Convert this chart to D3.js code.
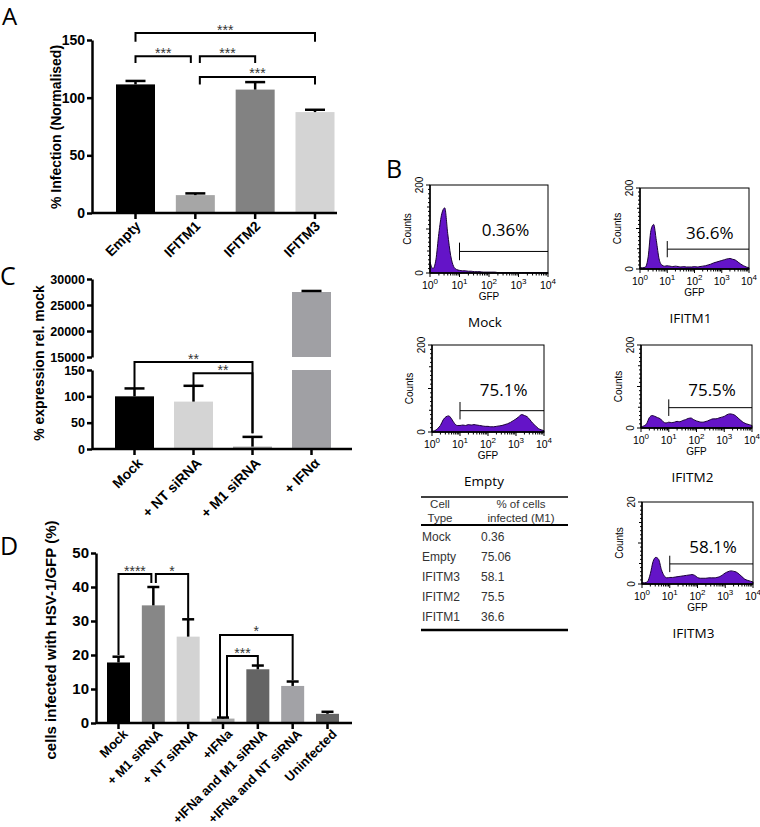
<!DOCTYPE html>
<html><head><meta charset="utf-8">
<script src="https://cdn.jsdelivr.net/npm/d3@7"></script>
<style>body{margin:0;background:#fff}svg{display:block}</style>
</head><body>
<svg id="c" width="760" height="827"></svg>
<script>
// ---------- DATA ----------
// Panel A
const catsA = ["Empty", "IFITM1", "IFITM2", "IFITM3"];
const valsA = [111.5, 15.5, 107, 87.5];
const errA = [114.5, 17, 113.5, 89.5];
const colorsA = ["#000000", "#a6a6a6", "#828282", "#d4d4d4"];
const ticksA = [0, 50, 100, 150];
const sigA = [
  {a: 0, b: 3, h: 156, ya: 148.5, yb: 148.5, da: 0, db: 0, label: "***"},
  {a: 0, b: 1, h: 136, ya: 130, yb: 130, da: 0, db: -4.5, label: "***"},
  {a: 1, b: 2, h: 136, ya: 130, yb: 130, da: 4.5, db: 0, label: "***"},
  {a: 1, b: 3, h: 118, ya: 111.5, yb: 111.5, da: 4.5, db: 0, label: "***"}
];
// Panel C
const catsC = ["Mock", "+ NT siRNA", "+ M1 siRNA", "+ IFN\u03b1"];
const valsC = [100, 90, 4.5, 27500];
const errC = [115, 120, 23, 27700];
const colorsC = ["#000000", "#d4d4d4", "#a0a0a0", "#a0a0a4"];
const ticksCLow = [0, 50, 100, 150];
const ticksCHigh = [15000, 20000, 25000, 30000];
const sigC = [
  {a: 0, b: 2, h: 165, ya: 116, yb: 30, da: 0, db: 0, label: "**"},
  {a: 1, b: 2, h: 144, ya: 121.5, yb: 30, da: 0, db: 0, label: "**"}
];
// Panel D
const catsD = ["Mock", "+ M1 siRNA", "+ NT siRNA", "+IFNa", "+IFNa and M1 siRNA", "+IFNa and NT siRNA", "Uninfected"];
const valsD = [17.8, 34.6, 25.4, 1.3, 15.8, 10.9, 2.7];
const errD = [19.5, 40, 30.5, 1.6, 16.9, 12.2, 3.3];
const colorsD = ["#000000", "#878787", "#d3d3d3", "#a8a8a8", "#646464", "#a2a2a6", "#646464"];
const ticksD = [0, 10, 20, 30, 40, 50];
const sigD = [
  {a: 0, b: 1, h: 43.8, ya: 20, yb: 41.2, da: 0, db: -2, label: "****"},
  {a: 1, b: 2, h: 43.8, ya: 41.2, yb: 30.9, da: 2.5, db: 0, label: "*"},
  {a: 3, b: 5, h: 25.9, ya: 1.8, yb: 12.6, da: -3, db: 0, label: "*"},
  {a: 3, b: 4, h: 19.7, ya: 1.8, yb: 17, da: 4, db: 0, label: "***"}
];
// Panel B histograms (counts at log10(GFP) = gfpExp)
const gfpExp = [0,0.1,0.2,0.3,0.4,0.5,0.6,0.7,0.8,0.9,1.0,1.1,1.2,1.3,1.4,1.5,1.6,1.7,1.8,1.9,2.0,2.1,2.2,2.3,2.4,2.5,2.6,2.7,2.8,2.9,3.0,3.1,3.2,3.3,3.4,3.5,3.6,3.7,3.8,3.9,4.0];
const histMock = [25,10,30,90,135,148,90,40,15,8, 6,5,5,4,4,3,3,3,2,2, 2,2,2,1,1,1,1,1,1,1, 1,1,1,1,1,1,1,1,1,1, 1];
const histIFITM1 = [3,3,5,30,95,110,70,25,10,7, 8,7,6,7,6,5,6,5,5,5, 6,5,6,7,8,10,12,15,17,19, 21,23,25,26,24,22,17,12,8,5, 3];
const histEmpty = [2,3,8,15,28,35,37,30,20,15, 15,16,15,17,16,17,16,15,14,13, 13,12,12,13,14,15,17,19,22,26, 30,35,40,38,35,28,20,14,8,5, 3];
const histIFITM2 = [3,5,10,25,30,28,25,22,15,12, 14,13,14,16,15,18,20,23,24,20, 17,15,14,15,17,20,22,22,24,26, 28,32,34,33,30,24,18,13,10,8, 6];
const histIFITM3 = [0.3,0.3,0.6,2.5,5.5,6.5,6,3.5,2,1.5, 1.6,1.6,1.7,1.8,1.9,2,2.1,2.2,2.3,2.1, 1.6,1.4,1.4,1.4,1.5,1.5,1.5,1.6,1.8,2.2, 2.7,3,3.2,3.1,2.9,2.4,1.8,1.2,0.9,0.7, 0.5];
const histNames = ["Mock", "IFITM1", "Empty", "IFITM2", "IFITM3"];
const histPct = ["0.36%", "36.6%", "75.1%", "75.5%", "58.1%"];
const histMax = [200, 200, 200, 200, 20];
const gfpTicks = [1, 10, 100, 1000, 10000];
// Table
const tableHeader = [["Cell", "Type"], ["% of cells", "infected (M1)"]];
const tableTypes = ["Mock", "Empty", "IFITM3", "IFITM2", "IFITM1"];
const tableVals = ["0.36", "75.06", "58.1", "75.5", "36.6"];

// ---------- DRAW ----------
const svg = d3.select("#c");
const F = "'Liberation Sans', Arial, Helvetica, sans-serif";
const LF = "'Open Sans', 'Noto Sans', sans-serif";
const AX = 2.5;

function letter(t, x, y, size) {
  svg.append("text").attr("x", x).attr("y", y).text(t)
    .attr("font-family", LF).attr("font-size", size).attr("fill", "#000");
}

function yAxis(g, y, ticks, xPos, fs) {
  const ax = g.append("g").attr("transform", `translate(${xPos},0)`)
    .call(d3.axisLeft(y).tickValues(ticks).tickSize(5).tickSizeOuter(0).tickPadding(2).tickFormat(d3.format("d")));
  ax.select(".domain").attr("stroke", "#000").attr("stroke-width", AX);
  ax.selectAll(".tick line").attr("stroke", "#000").attr("stroke-width", AX);
  ax.selectAll(".tick text").attr("font-family", F).attr("font-weight", "bold")
    .attr("font-size", fs).attr("fill", "#000");
  return ax;
}

function xAxis(g, x, cats, x0, x1, y0, fs, dx, dy) {
  g.append("line").attr("x1", x0).attr("x2", x1).attr("y1", y0).attr("y2", y0)
    .attr("stroke", "#000").attr("stroke-width", AX);
  g.selectAll(null).data(cats).enter().append("line")
    .attr("x1", d => x(d)).attr("x2", d => x(d)).attr("y1", y0).attr("y2", y0 + 6)
    .attr("stroke", "#000").attr("stroke-width", AX);
  g.selectAll(null).data(cats).enter().append("text")
    .attr("transform", d => `translate(${x(d) + dx},${y0 + dy}) rotate(-45)`)
    .attr("text-anchor", "end").attr("font-family", F).attr("font-weight", "bold")
    .attr("font-size", fs).text(d => d);
}

function bars(g, x, yfn, cats, vals, colors, w) {
  g.selectAll(null).data(cats).enter().append("rect")
    .attr("x", d => x(d) - w / 2).attr("width", w)
    .attr("y", (d, i) => yfn(vals[i])).attr("height", (d, i) => yfn(0) - yfn(vals[i]))
    .attr("fill", (d, i) => colors[i]);
}

function errBars(g, x, yfn, cats, vals, errs, cw) {
  cats.forEach((c, i) => {
    const cx = x(c);
    g.append("line").attr("x1", cx).attr("x2", cx).attr("y1", yfn(vals[i])).attr("y2", yfn(errs[i]))
      .attr("stroke", "#000").attr("stroke-width", AX);
    g.append("line").attr("x1", cx - cw / 2).attr("x2", cx + cw / 2).attr("y1", yfn(errs[i])).attr("y2", yfn(errs[i]))
      .attr("stroke", "#000").attr("stroke-width", AX);
  });
}

function brackets(g, x, yfn, cats, sigs, fs) {
  sigs.forEach(s => {
    const xa = x(cats[s.a]) + s.da, xb = x(cats[s.b]) + s.db, yh = yfn(s.h);
    g.append("path").attr("d", `M${xa},${yfn(s.ya)}V${yh}H${xb}V${yfn(s.yb)}`)
      .attr("fill", "none").attr("stroke", "#000").attr("stroke-width", 2);
    g.append("text").attr("x", (xa + xb) / 2).attr("y", yh + 1.5).attr("text-anchor", "middle")
      .attr("font-family", F).attr("font-size", fs).attr("fill", "#333").text(s.label);
  });
}

function yTitle(g, t, x, y, fs) {
  g.append("text").attr("transform", `translate(${x},${y}) rotate(-90)`).attr("text-anchor", "middle")
    .attr("font-family", F).attr("font-weight", "bold").attr("font-size", fs).text(t);
}

// ---- Panel A ----
letter("A", 2, 25, 24);
{
  const g = svg.append("g");
  const y = d3.scaleLinear().domain([0, 150]).range([213, 40]);
  const x = d3.scalePoint().domain(catsA).range([135.5, 315]);
  bars(g, x, y, catsA, valsA, colorsA, 39);
  errBars(g, x, y, catsA, valsA, errA, 20);
  yAxis(g, y, ticksA, 92, 14);
  xAxis(g, x, catsA, 92, 337, 213, 14, 6, 14);
  brackets(g, x, y, catsA, sigA, 14);
  yTitle(g, "% Infection (Normalised)", 61, 127, 14);
}

// ---- Panel C ----
letter("C", 0, 285, 25);
{
  const g = svg.append("g");
  const yL = d3.scaleLinear().domain([0, 150]).range([449, 370]);
  const yU = d3.scaleLinear().domain([15000, 30000]).range([357, 279]);
  const x = d3.scalePoint().domain(catsC).range([134.5, 311.5]);
  const w = 39;
  catsC.forEach((c, i) => {
    const v = valsC[i];
    if (v <= 150) {
      g.append("rect").attr("x", x(c) - w / 2).attr("width", w).attr("y", yL(v)).attr("height", yL(0) - yL(v)).attr("fill", colorsC[i]);
    } else {
      g.append("rect").attr("x", x(c) - w / 2).attr("width", w).attr("y", yL(150)).attr("height", yL(0) - yL(150)).attr("fill", colorsC[i]);
      g.append("rect").attr("x", x(c) - w / 2).attr("width", w).attr("y", yU(v)).attr("height", yU(15000) - yU(v)).attr("fill", colorsC[i]);
    }
    const yf = errC[i] > 150 ? yU : yL;
    g.append("line").attr("x1", x(c)).attr("x2", x(c)).attr("y1", yf(v)).attr("y2", yf(errC[i])).attr("stroke", "#000").attr("stroke-width", AX);
    g.append("line").attr("x1", x(c) - 10).attr("x2", x(c) + 10).attr("y1", yf(errC[i])).attr("y2", yf(errC[i])).attr("stroke", "#000").attr("stroke-width", AX);
  });
  yAxis(g, yL, ticksCLow, 92, 12.5);
  yAxis(g, yU, ticksCHigh, 92, 12.5);
  xAxis(g, x, catsC, 92, 352, 449, 14, 9, 15);
  brackets(g, x, yL, catsC, sigC, 14);
  yTitle(g, "% expression rel. mock", 44, 363, 14);
}

// ---- Panel D ----
letter("D", 0, 555, 25);
{
  const g = svg.append("g");
  const y = d3.scaleLinear().domain([0, 50]).range([723, 553]);
  const x = d3.scalePoint().domain(catsD).range([118.5, 327.5]);
  bars(g, x, y, catsD, valsD, colorsD, 23);
  errBars(g, x, y, catsD, valsD, errD, 12);
  yAxis(g, y, ticksD, 96, 15);
  xAxis(g, x, catsD, 96, 352, 723, 13, 10, 12);
  brackets(g, x, y, catsD, sigD, 14);
  yTitle(g, "cells infected with HSV-1/GFP (%)", 56, 640, 15);
}

// ---- Panel B ----
letter("B", 386, 178, 25);
const histData = [histMock, histIFITM1, histEmpty, histIFITM2, histIFITM3];
const boxes = [[430, 185, 548, 273], [640, 188, 749, 269], [432, 345, 544, 432], [641, 345, 752, 428], [642, 502, 753, 584]];
histData.forEach((counts, k) => {
  const [x0, y0, x1, y1] = boxes[k];
  const g = svg.append("g");
  const x = d3.scaleLog().domain([1, 1e4]).range([x0, x1]);
  const y = d3.scaleLinear().domain([0, histMax[k]]).range([y1, y0]);
  const pts = gfpExp.map((e, i) => [Math.pow(10, e), counts[i]]);
  const area = d3.area().x(d => x(d[0])).y0(y(0)).y1(d => y(d[1])).curve(d3.curveMonotoneX);
  g.append("path").datum(pts).attr("d", area).attr("fill", "#6414c8").attr("stroke", "#1a0038").attr("stroke-width", 1);
  g.append("rect").attr("x", x0).attr("y", y0).attr("width", x1 - x0).attr("height", y1 - y0)
    .attr("fill", "none").attr("stroke", "#000").attr("stroke-width", 1);
  g.append("line").attr("x1", x0).attr("x2", x0).attr("y1", y0).attr("y2", y1).attr("stroke", "#000").attr("stroke-width", 1.5);
  g.append("line").attr("x1", x0).attr("x2", x1).attr("y1", y1).attr("y2", y1).attr("stroke", "#000").attr("stroke-width", 1.5);
  // y minor ticks
  const ym = d3.range(0, 21).map(i => i * histMax[k] / 20);
  g.selectAll(null).data(ym).enter().append("line")
    .attr("x1", x0).attr("x2", (d, i) => x0 - (i % 10 === 0 ? 4 : (i % 5 === 0 ? 3 : 2)))
    .attr("y1", d => y(d)).attr("y2", d => y(d)).attr("stroke", "#000").attr("stroke-width", 1);
  // x ticks
  g.selectAll(null).data(x.ticks()).enter().append("line")
    .attr("x1", d => x(d)).attr("x2", d => x(d)).attr("y1", y1)
    .attr("y2", d => y1 + (gfpTicks.includes(d) ? 4 : 2.5)).attr("stroke", "#000").attr("stroke-width", 1);
  // y labels
  [0, histMax[k]].forEach(v => {
    g.append("text").attr("transform", `translate(${x0 - 7},${y(v)}) rotate(-90)`).attr("text-anchor", "middle")
      .attr("font-family", F).attr("font-size", 10).text(v);
  });
  g.append("text").attr("transform", `translate(${x0 - 19},${(y0 + y1) / 2}) rotate(-90)`).attr("text-anchor", "middle")
    .attr("font-family", F).attr("font-size", 10).text("Counts");
  // x labels
  gfpTicks.forEach((t, i) => {
    const tx = g.append("text").attr("x", x(t)).attr("y", y1 + 16).attr("text-anchor", "middle")
      .attr("font-family", F).attr("font-size", 10.5);
    tx.append("tspan").text("10");
    tx.append("tspan").attr("dy", -5).attr("font-size", 8).text(Math.round(Math.log10(t)));
  });
  g.append("text").attr("x", (x0 + x1) / 2).attr("y", y1 + 27).attr("text-anchor", "middle")
    .attr("font-family", F).attr("font-size", 10).text("GFP");
  // gate
  const gy = y(histMax[k] * 0.245), gx = x(10);
  g.append("line").attr("x1", gx).attr("x2", gx).attr("y1", y(histMax[k] * 0.345)).attr("y2", y(histMax[k] * 0.145)).attr("stroke", "#000").attr("stroke-width", 1);
  g.append("line").attr("x1", gx).attr("x2", x1).attr("y1", gy).attr("y2", gy).attr("stroke", "#000").attr("stroke-width", 1);
  g.append("text").attr("x", x0 + 0.64 * (x1 - x0)).attr("y", y0 + 51).attr("text-anchor", "middle")
    .attr("font-family", LF).attr("font-size", 17).text(histPct[k]);
  g.append("text").attr("x", (x0 + x1) / 2 - 4).attr("y", y1 + 54).attr("text-anchor", "middle")
    .attr("font-family", LF).attr("font-size", 13.5).text(histNames[k]);
});

// ---- Table ----
{
  const g = svg.append("g").attr("font-family", F).attr("fill", "#333");
  const tx0 = 421, tx1 = 568;
  g.append("line").attr("x1", tx0).attr("x2", tx1).attr("y1", 497).attr("y2", 497).attr("stroke", "#000").attr("stroke-width", 1.5);
  g.append("line").attr("x1", tx0).attr("x2", tx1).attr("y1", 525).attr("y2", 525).attr("stroke", "#000").attr("stroke-width", 2);
  g.append("line").attr("x1", tx0).attr("x2", tx1).attr("y1", 630).attr("y2", 630).attr("stroke", "#000").attr("stroke-width", 2.5);
  const hx = [440, 521];
  tableHeader.forEach((h, j) => {
    h.forEach((t, r) => {
      g.append("text").attr("x", hx[j]).attr("y", 508 + r * 14).attr("text-anchor", "middle")
        .attr("font-size", 11.5).attr("fill", "#333").text(t);
    });
  });
  tableTypes.forEach((t, i) => {
    g.append("text").attr("x", 422).attr("y", 541 + i * 20).attr("font-size", 12).attr("fill", "#333").text(t);
    g.append("text").attr("x", 481).attr("y", 541 + i * 20).attr("font-size", 12).attr("fill", "#333").text(tableVals[i]);
  });
}
</script>
</body></html>
